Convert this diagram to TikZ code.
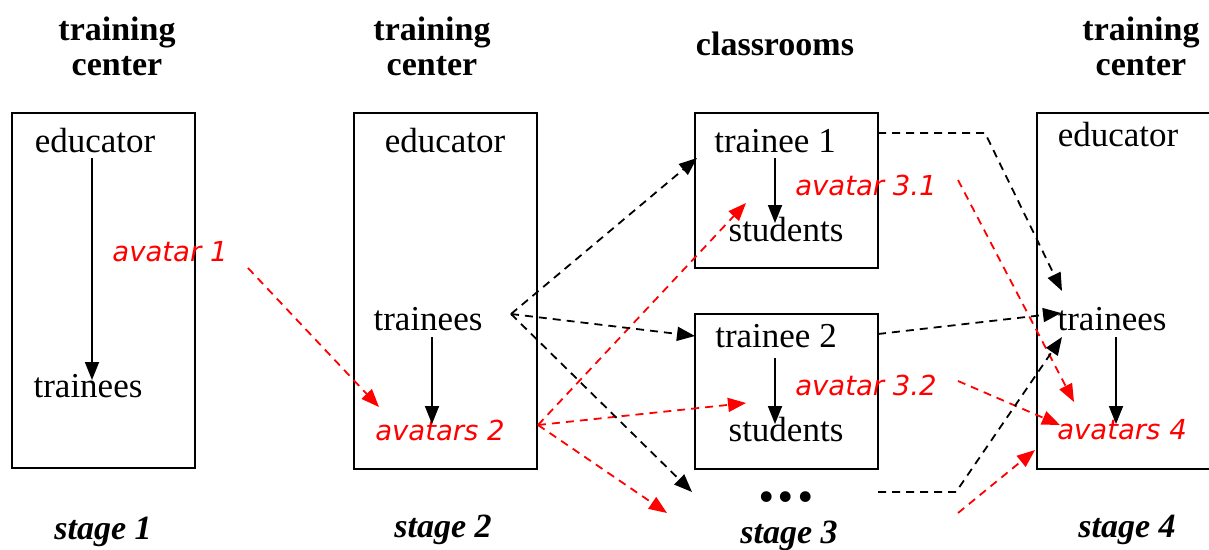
\documentclass[tikz,border=0pt]{standalone}
\usepackage{fontspec}
\setmainfont{Liberation Serif}
\newfontfamily\avfont{DejaVu Sans}
\usetikzlibrary{arrows.meta}
\begin{document}
\begin{tikzpicture}[x=1pt,y=-1pt,
  txt/.style={inner sep=0pt,font=\fontsize{35}{40}\selectfont},
  hdr/.style={inner sep=0pt,font=\fontsize{34}{35}\selectfont\bfseries,align=center},
  stg/.style={inner sep=0pt,font=\fontsize{34}{38}\selectfont\bfseries\itshape},
  av/.style={inner sep=0pt,text=red,font=\avfont\itshape\fontsize{27.5}{30}\selectfont},
  boxs/.style={draw,line width=1.3pt},
  boxb/.style={draw,line width=2pt},
  tip/.style={-{Triangle[length=18pt,width=14pt]}},
  solidarr/.style={line width=1.8pt,tip},
  bd/.style={line width=1.8pt,dash pattern=on 8pt off 6pt,tip},
  rd/.style={bd,red},
]
\useasboundingbox (0,0) rectangle (1209,549);
% boxes
\draw[boxs] (12,113) rectangle (195,468);
\draw[boxb] (354,113) rectangle (537,469);
\draw[boxb] (695,113) rectangle (878,268);
\draw[boxb] (695,314) rectangle (878,469);
\draw[line width=2.6pt] (1212,113) -- (1037,113) -- (1037,469) -- (1212,469);
% headers
\node[hdr] (h1) at (117,46) {training\\center};
\node[hdr] (h2) at (432,46) {training\\center};
\node[hdr] (h3) at (775,44) {classrooms};
\node[hdr] (h4) at (1141,46) {training\\center};
% stage labels
\node[stg] (s1) at (103,532) {stage 1};
\node[stg] (s2) at (443,530) {stage 2};
\node[stg] (s3) at (789,536) {stage 3};
\node[stg] (s4) at (1127,530) {stage 4};
% box 1
\node[txt] (e1) at (95,141) {educator};
\node[txt] (tr1) at (88,386) {trainees};
\coordinate (e1a) at (92,158);
\coordinate (tr1a) at (92,380);
\draw[solidarr] (e1a) -- (tr1a);
\node[av] (a1) at (170,252) {avatar 1};
% box 2
\node[txt] (e2) at (445,141) {educator};
\node[txt] (tr2) at (428,319) {trainees};
\node[av] (a2) at (440,430) {avatars 2};
\coordinate (tr2a) at (432,337);
\coordinate (a2a) at (432,424);
\draw[solidarr] (tr2a) -- (a2a);
% box 3
\node[txt] (t1) at (775,141) {trainee 1};
\node[txt] (st1) at (786,230) {students};
\coordinate (t1a) at (775,158);
\coordinate (st1a) at (775,223);
\draw[solidarr] (t1a) -- (st1a);
\node[av] (a31) at (866,185) {avatar 3.1};
% box 4
\node[txt] (t2) at (776,336) {trainee 2};
\node[txt] (st2) at (786,430) {students};
\coordinate (t2a) at (775,358);
\coordinate (st2a) at (775,424);
\draw[solidarr] (t2a) -- (st2a);
\node[av] (a32) at (866,385) {avatar 3.2};
\node[inner sep=0pt,font=\fontsize{66}{66}\selectfont\bfseries] (dots) at (786,497) {.\hspace{3pt}.\hspace{3pt}.};
% box 5
\node[txt] (e4) at (1118,135) {educator};
\node[txt] (tr4) at (1112,319) {trainees};
\node[av] (a4) at (1122,430) {avatars 4};
\coordinate (tr4a) at (1116,337);
\coordinate (a4a) at (1116,424);
\draw[solidarr] (tr4a) -- (a4a);
% coordinates for dashed connectors
\coordinate (a1s) at (248,268);
\coordinate (a2t) at (379,407);
\coordinate (tr2s) at (511,314);
\coordinate (b3in) at (697,158);
\coordinate (b4in) at (695,336);
\coordinate (dotsin) at (692,492);
\coordinate (a2s) at (538,425);
\coordinate (st1in) at (746,203);
\coordinate (st2in) at (746,403);
\coordinate (s3in) at (667,513);
\coordinate (b3out) at (878,133);
\coordinate (b3bend) at (985,133);
\coordinate (tr4t) at (1062,291);
\coordinate (b4out) at (878,334);
\coordinate (tr4l) at (1061,313);
\coordinate (dotsout) at (878,492);
\coordinate (dotsbend) at (956,492);
\coordinate (tr4b) at (1062,337);
\coordinate (a31s) at (958,180);
\coordinate (a4t) at (1074,402);
\coordinate (a32s) at (958,381);
\coordinate (a4l) at (1060,425);
\coordinate (s3s) at (958,513);
\coordinate (b5l) at (1035,450);
% red dashed
\draw[rd] (a1s) -- (a2t);
\draw[rd] (a2s) -- (st1in);
\draw[rd] (a2s) -- (st2in);
\draw[rd] (a2s) -- (s3in);
\draw[rd] (a31s) -- (a4t);
\draw[rd] (a32s) -- (a4l);
\draw[rd] (s3s) -- (b5l);
% black dashed
\draw[bd] (tr2s) -- (b3in);
\draw[bd] (tr2s) -- (b4in);
\draw[bd] (tr2s) -- (dotsin);
\draw[bd] (b3out) -- (b3bend) -- (tr4t);
\draw[bd] (b4out) -- (tr4l);
\draw[bd] (dotsout) -- (dotsbend) -- (tr4b);
\end{tikzpicture}
\end{document}
